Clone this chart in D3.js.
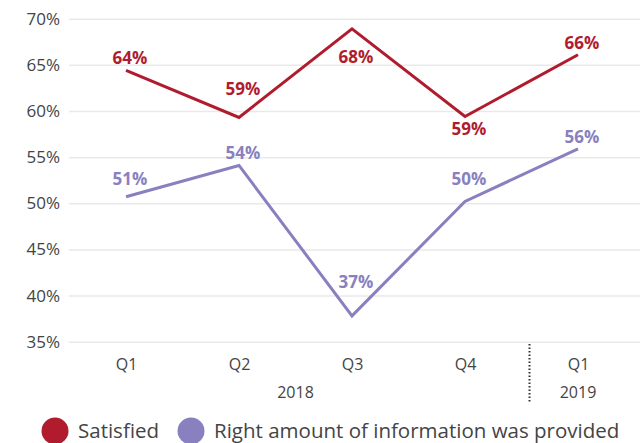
<!DOCTYPE html>
<html>
<head>
<meta charset="utf-8">
<script src="https://cdn.jsdelivr.net/npm/d3@7"></script>
<style>
  body { margin: 0; background: #fff; }
  svg text { font-family: "Open Sans", sans-serif; }
</style>
</head>
<body>
<div id="chart"></div>
<script>
// values
var quarters = ["Q1", "Q2", "Q3", "Q4", "Q1"];
var years = ["2018", "2018", "2018", "2018", "2019"];
var satisfied = [64.4, 59.3, 68.9, 59.4, 66.1];
var satisfiedLabels = ["64%", "59%", "68%", "59%", "66%"];
var satisfiedSide = ["above", "above", "below", "below", "above"];
var rightInfo = [50.7, 54.1, 37.8, 50.2, 55.9];
var rightInfoLabels = ["51%", "54%", "37%", "50%", "56%"];
var rightInfoSide = ["above", "above", "above", "above", "above"];
var yTicks = [35, 40, 45, 50, 55, 60, 65, 70];
var seriesNames = ["Satisfied", "Right amount of information was provided"];

var RED = "#b01c2e", PURPLE = "#8880bf", TXT = "#444";

var svg = d3.select("#chart").append("svg")
    .attr("width", 640)
    .attr("height", 443);

var idx = d3.range(quarters.length);
var x = d3.scalePoint().domain(idx).range([126, 578]);
var y = d3.scaleLinear().domain([35, 70]).range([341.7, 18.7]);

// y axis + gridlines
var yAxis = svg.append("g")
    .attr("transform", "translate(69,0)")
    .call(d3.axisLeft(y).tickValues(yTicks).tickSize(-571).tickPadding(9)
        .tickFormat(function (d) { return d + "%"; }));
yAxis.select(".domain").remove();
yAxis.selectAll(".tick line").attr("stroke", "#e9e9e9").attr("stroke-width", 1.5);
yAxis.selectAll(".tick text").attr("fill", TXT).style("font-size", "17px");

// quarter axis
var xAxis = svg.append("g")
    .attr("transform", "translate(0,352)")
    .call(d3.axisBottom(x).tickSize(0).tickPadding(7)
        .tickFormat(function (i) { return quarters[i]; }));
xAxis.select(".domain").remove();
xAxis.selectAll(".tick text").attr("fill", TXT).style("font-size", "16px");

// year labels, centred under their quarters
var yearGroups = d3.groups(idx, function (i) { return years[i]; });
svg.selectAll(".year").data(yearGroups).enter().append("text")
    .attr("class", "year")
    .attr("x", function (g) { return d3.mean(g[1], function (i) { return x(i); }); })
    .attr("y", 398)
    .attr("text-anchor", "middle")
    .attr("fill", TXT)
    .style("font-size", "16px")
    .text(function (g) { return g[0]; });

// dotted separator between the years
var sep = (x(3) + x(4)) / 2 + 8;
svg.append("line")
    .attr("x1", sep).attr("x2", sep)
    .attr("y1", 344).attr("y2", 402)
    .attr("stroke", "#333")
    .attr("stroke-width", 2)
    .attr("stroke-dasharray", "1.5,2");

var line = d3.line()
    .x(function (d, i) { return x(i); })
    .y(function (d) { return y(d); });

// y of the series line at pixel xp
function lineAt(values, xp) {
    var i = Math.max(0, Math.min(values.length - 2, Math.floor((xp - x(0)) / x.step())));
    var t = (xp - x(i)) / x.step();
    t = Math.max(0, Math.min(1, t));
    return y(values[i]) + t * (y(values[i + 1]) - y(values[i]));
}

function drawSeries(values, labels, sides, color) {
    svg.append("path")
        .datum(values)
        .attr("fill", "none")
        .attr("stroke", color)
        .attr("stroke-width", 3)
        .attr("stroke-linejoin", "miter")
        .attr("d", line);

    svg.append("g").selectAll("text").data(values).enter().append("text")
        .attr("x", function (d, i) { return x(i) + 4; })
        .attr("text-anchor", "middle")
        .attr("fill", color)
        .style("font-size", "17px")
        .style("font-weight", "bold")
        .text(function (d, i) { return labels[i]; })
        .attr("y", function (d, i) {
            // keep the label clear of the line under / over it
            var w = this.getComputedTextLength(), cx = x(i) + 4;
            var ys = [y(d), lineAt(values, cx - w / 2), lineAt(values, cx + w / 2)];
            return sides[i] === "above" ? d3.min(ys) - 6 : d3.max(ys) + 18;
        });
}

drawSeries(satisfied, satisfiedLabels, satisfiedSide, RED);
drawSeries(rightInfo, rightInfoLabels, rightInfoSide, PURPLE);

// legend
var legend = svg.append("g").attr("transform", "translate(0,431)");
var lx = 55;
seriesNames.forEach(function (name, k) {
    var g = legend.append("g").attr("transform", "translate(" + lx + ",0)");
    g.append("circle").attr("r", 13.5).attr("fill", k === 0 ? RED : PURPLE);
    var t = g.append("text")
        .attr("x", 23)
        .attr("y", 7)
        .attr("fill", TXT)
        .style("font-size", "20.5px")
        .text(name);
    lx += 23 + t.node().getComputedTextLength() + 32;
});
</script>
</body>
</html>
